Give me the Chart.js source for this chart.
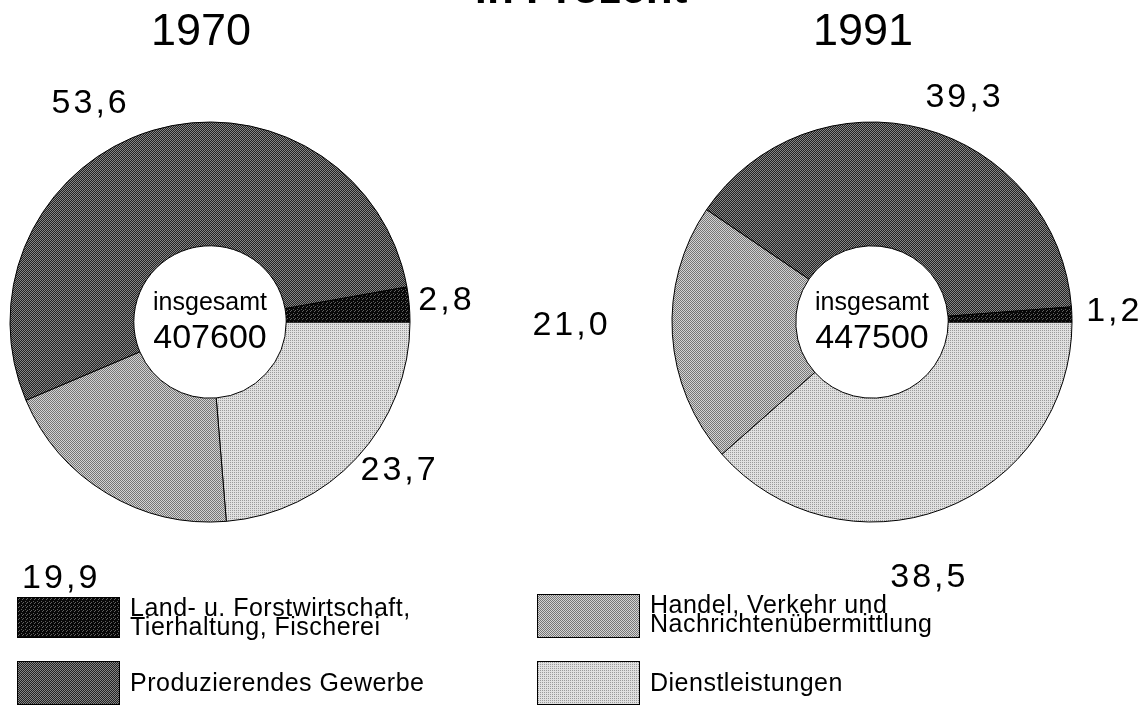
<!DOCTYPE html>
<html>
<head>
<meta charset="utf-8">
<script src="https://cdn.jsdelivr.net/npm/chart.js@4/dist/chart.umd.min.js"></script>
<style>
  html, body { margin: 0; padding: 0; background: #fff; }
  body { width: 1146px; height: 705px; position: relative; overflow: hidden; }
  canvas { position: absolute; left: 0; top: 0; }
</style>
</head>
<body>
<canvas id="chart1970" width="1146" height="705"></canvas>
<canvas id="chart1991" width="1146" height="705"></canvas>
<script>
// Data
const categories = ['Dienstleistungen', 'Handel, Verkehr und Nachrichtenübermittlung', 'Produzierendes Gewerbe', 'Land- u. Forstwirtschaft, Tierhaltung, Fischerei'];
const values1970 = [23.7, 19.9, 53.6, 2.8];
const values1991 = [38.5, 21.0, 39.3, 1.2];
const years = ['1970', '1991'];
const totals = [407600, 447500];
const topTitle = 'in Prozent';
const centerCaption = 'insgesamt';

// Legend lines, as printed
const legendLines = [
    ['Dienstleistungen'],
    ['Handel, Verkehr und', 'Nachrichtenübermittlung'],
    ['Produzierendes Gewerbe'],
    ['Land- u. Forstwirtschaft,', 'Tierhaltung, Fischerei']
];

const FONT = '"Liberation Sans", Arial, Helvetica, sans-serif';

// Value label placement: angle (deg, clockwise from 3 o'clock) and distance from centre
const labelPolar1970 = [[38.4, 240], [120.4, 297], [241.1, 250], [-5.3, 236]];
const labelPolar1991 = [[77.7, 262], [179.4, 302], [-67.9, 242], [-2.4, 241]];

// Dithered grey fills like the printed original
function makePattern(size, base, dotColor, dots) {
    const c = document.createElement('canvas');
    c.width = size;
    c.height = size;
    const g = c.getContext('2d');
    g.fillStyle = base;
    g.fillRect(0, 0, size, size);
    g.fillStyle = dotColor;
    dots.forEach(([x, y]) => g.fillRect(x, y, 1, 1));
    return g.createPattern(c, 'repeat');
}

const fills = [
    makePattern(2, '#e0e0e0', '#9a9a9a', [[0, 0]]),
    makePattern(2, '#767676', '#d4d4d4', [[0, 1], [1, 0]]),
    makePattern(2, '#222222', '#858585', [[0, 0], [1, 1]]),
    makePattern(4, '#080808', '#606060', [[1, 1], [3, 2], [2, 3]])
];

function fmt(v) {
    return v.toFixed(1).replace('.', ',');
}

// Draws titles, centre text, value labels and (for the first chart) the legend
const decorPlugin = {
    id: 'decor',
    afterDraw(chart, args, opts) {
        const ctx = chart.ctx;
        const arc = chart.getDatasetMeta(0).data[0];
        const cx = arc.x, cy = arc.y;
        const values = chart.data.datasets[0].data;

        ctx.save();
        ctx.fillStyle = '#000';
        ctx.textAlign = 'center';
        ctx.textBaseline = 'alphabetic';

        // year
        ctx.font = '45px ' + FONT;
        ctx.fillText(opts.year, cx - 9, 45);

        // centre text
        ctx.font = '25px ' + FONT;
        ctx.fillText(centerCaption, cx, 310);
        ctx.font = '34px ' + FONT;
        ctx.fillText(String(opts.total), cx, 348);

        // value labels
        ctx.font = '34px ' + FONT;
        ctx.letterSpacing = '3px';
        ctx.textBaseline = 'middle';
        values.forEach((v, i) => {
            const [deg, dist] = opts.polar[i];
            const a = deg * Math.PI / 180;
            ctx.fillText(fmt(v), cx + dist * Math.cos(a) + 1.5, cy + dist * Math.sin(a));
        });
        ctx.letterSpacing = '0px';

        if (opts.legend) {
            ctx.textBaseline = 'alphabetic';
            ctx.font = 'bold 44px ' + FONT;
            ctx.fillText(topTitle, 581, 3);

            // legend: [category index, box x, box y, box w, box h, text x, first baseline]
            const slots = [
                [3, 17, 597, 103, 41, 130, 616],
                [2, 17, 661, 103, 44, 130, 691],
                [1, 537, 594, 103, 44, 650, 613],
                [0, 537, 661, 103, 44, 650, 691]
            ];
            ctx.textAlign = 'left';
            ctx.font = '25px ' + FONT;
            ctx.letterSpacing = '0.5px';
            slots.forEach(([idx, bx, by, bw, bh, tx, ty]) => {
                ctx.fillStyle = fills[idx];
                ctx.fillRect(bx, by, bw, bh);
                ctx.strokeStyle = '#000';
                ctx.lineWidth = 1;
                ctx.strokeRect(bx + 0.5, by + 0.5, bw - 1, bh - 1);
                ctx.fillStyle = '#000';
                legendLines[idx].forEach((line, k) => ctx.fillText(line, tx, ty + k * 19));
            });
            ctx.letterSpacing = '0px';
        }
        ctx.restore();
    }
};

function makeDonut(canvasId, values, year, total, polar, padding, withLegend) {
    const ctx = document.getElementById(canvasId).getContext('2d');
    return new Chart(ctx, {
        type: 'doughnut',
        data: {
            labels: categories,
            datasets: [{
                data: values,
                backgroundColor: fills,
                borderColor: '#000',
                borderWidth: 1,
                borderAlign: 'center'
            }]
        },
        options: {
            responsive: false,
            animation: false,
            rotation: 90,
            radius: 200,
            cutout: 76,
            layout: { padding: padding },
            plugins: {
                legend: { display: false },
                tooltip: { enabled: false },
                decor: { year: year, total: total, polar: polar, legend: withLegend }
            }
        },
        plugins: [decorPlugin]
    });
}

makeDonut('chart1970', values1970, years[0], totals[0], labelPolar1970,
    { left: 10, right: 736, top: 122, bottom: 183 }, true);
makeDonut('chart1991', values1991, years[1], totals[1], labelPolar1991,
    { left: 672, right: 74, top: 122, bottom: 183 }, false);
</script>
</body>
</html>
